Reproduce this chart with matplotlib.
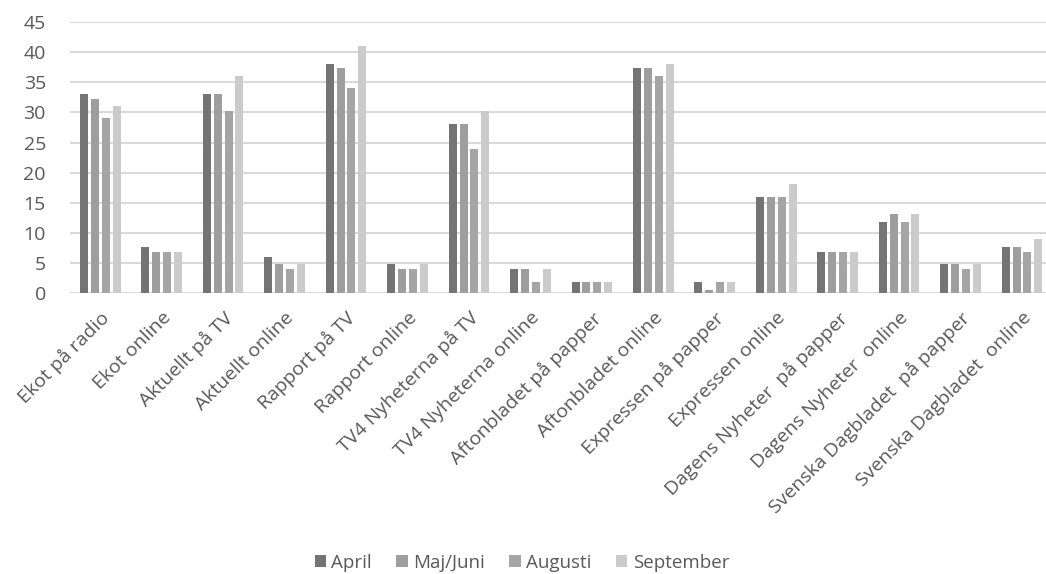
import numpy as np
import matplotlib
matplotlib.use("Agg")
import matplotlib.pyplot as plt

plt.rcParams['font.family'] = ['Open Sans', 'DejaVu Sans']

categories = ["Ekot på radio", "Ekot online", "Aktuellt på TV", "Aktuellt online",
              "Rapport på TV", "Rapport online", "TV4 Nyheterna på TV", "TV4 Nyheterna online",
              "Aftonbladet på papper", "Aftonbladet online", "Expressen på papper",
              "Expressen online", "Dagens Nyheter  på papper", "Dagens Nyheter  online",
              "Svenska Dagbladet  på papper", "Svenska Dagbladet  online"]
april    = [33.1, 7.7, 33.1, 6.0, 38.1, 4.8, 28.1, 4.0, 1.9, 37.3, 1.9, 16.0, 6.8, 11.9, 4.8, 7.7]
maj_juni = [32.3, 6.8, 33.1, 4.8, 37.3, 4.0, 28.1, 4.0, 1.9, 37.3, 0.6, 16.0, 6.8, 13.1, 4.8, 7.7]
augusti  = [29.0, 6.8, 30.2, 4.0, 34.0, 4.0, 24.0, 1.9, 1.9, 36.0, 1.9, 16.0, 6.8, 11.9, 4.0, 6.8]
september = [31.1, 6.8, 36.0, 4.8, 41.1, 4.8, 30.2, 4.0, 1.9, 38.1, 1.9, 18.1, 6.8, 13.1, 4.8, 9.0]

series = [("April", april, "#747474"), ("Maj/Juni", maj_juni, "#9e9e9e"),
          ("Augusti", augusti, "#a5a5a5"), ("September", september, "#cbcbcb")]

fig = plt.figure(figsize=(10.46, 5.74), dpi=100)
ax = fig.add_axes([69.5/1046, 1 - 293.3/574, (1046 - 69.5)/1046, (293.3 - 22)/574])

x = np.arange(len(categories))
slot = 0.177
for i, (name, vals, col) in enumerate(series):
    ax.bar(x + (i - 1.5) * slot, vals, width=0.13, color=col, label=name, zorder=3)

ax.set_ylim(0, 45)
ax.set_xlim(-0.5, 15.39)
ax.set_yticks(range(0, 46, 5))
ax.yaxis.grid(True, color="#d9d9d9", linewidth=1.5, zorder=0)
ax.set_axisbelow(True)
for s in ax.spines.values():
    s.set_visible(False)
ax.tick_params(axis='both', length=0, colors="#595959", labelsize=14)
ax.tick_params(axis='y', pad=17)
ax.set_xticks(x)
ax.set_xticklabels(categories, rotation=45, ha='right', rotation_mode='anchor')
ax.tick_params(axis='x', pad=11)

fig.legend(loc='center', bbox_to_anchor=(522/1046, 1 - 563/574), ncol=4, frameon=False,
           fontsize=13.5, handlelength=0.6, handleheight=0.6, handletextpad=0.3,
           columnspacing=1.3, labelcolor="#595959")

fig.savefig("out.png", dpi=100)
